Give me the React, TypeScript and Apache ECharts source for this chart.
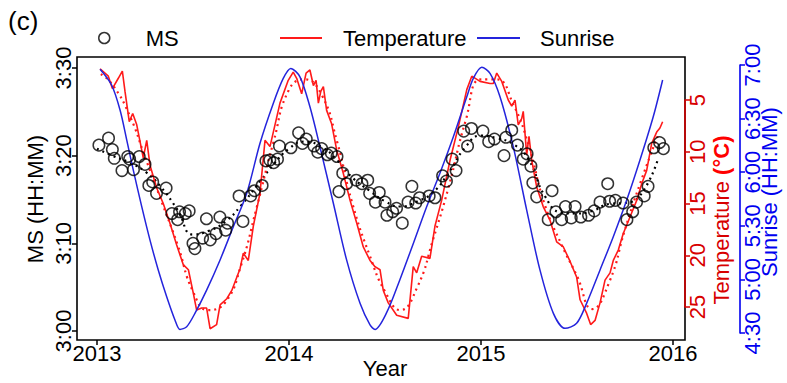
import React, { useEffect, useRef } from "react";
import * as echarts from "echarts";

const FONT = "'Liberation Sans', Arial, Helvetica, sans-serif";

// Axis ticks
const yearTicks = [2013, 2014, 2015, 2016];
const msTicksMin = [180, 190, 200, 210]; // minutes after midnight (3:00 .. 3:30)
const temperatureTicks = [5, 10, 15, 20, 25];
const sunriseTicksMin = [270, 300, 330, 360, 390, 420]; // 4:30 .. 7:00

// MS observations: decimal year, minutes after midnight
const msYears = [
  2013.01, 2013.06, 2013.08, 2013.09, 2013.13, 2013.16, 2013.17, 2013.19, 2013.22, 2013.25,
  2013.27, 2013.29, 2013.31, 2013.36, 2013.39, 2013.42, 2013.43, 2013.46, 2013.48, 2013.5,
  2013.51, 2013.55, 2013.57, 2013.59, 2013.62, 2013.64, 2013.67, 2013.68, 2013.74, 2013.76,
  2013.8, 2013.82, 2013.86, 2013.88, 2013.9, 2013.92, 2013.94, 2013.95, 2014.01, 2014.05,
  2014.07, 2014.09, 2014.13, 2014.15, 2014.17, 2014.2, 2014.22, 2014.25, 2014.26, 2014.28,
  2014.3, 2014.35, 2014.38, 2014.41, 2014.42, 2014.45, 2014.47, 2014.5, 2014.51, 2014.54,
  2014.56, 2014.59, 2014.62, 2014.64, 2014.66, 2014.68, 2014.73, 2014.76, 2014.8, 2014.82,
  2014.85, 2014.87, 2014.91, 2014.93, 2014.95, 2015.01, 2015.04, 2015.07, 2015.12, 2015.13,
  2015.16, 2015.19, 2015.22, 2015.24, 2015.26, 2015.27, 2015.29, 2015.35, 2015.37, 2015.39,
  2015.42, 2015.44, 2015.47, 2015.49, 2015.52, 2015.56, 2015.59, 2015.62, 2015.66, 2015.67,
  2015.7, 2015.74, 2015.76, 2015.79, 2015.81, 2015.85, 2015.87, 2015.9, 2015.93, 2015.95,
];
const msMinutes = [
  201.2, 202.0, 200.7, 199.7, 198.3, 199.9, 199.6, 198.4, 199.9, 199.0,
  196.6, 197.0, 195.7, 196.3, 193.4, 192.7, 193.6, 193.4, 193.7, 190.0,
  189.4, 190.6, 192.8, 190.4, 191.1, 193.0, 191.5, 192.3, 195.4, 192.5,
  195.4, 196.0, 196.6, 199.4, 199.5, 199.2, 199.6, 201.1, 200.9, 202.6,
  201.4, 201.9, 201.1, 200.4, 200.8, 200.1, 200.3, 199.9, 195.9, 198.0,
  196.8, 197.2, 196.8, 197.2, 195.7, 194.7, 195.8, 194.7, 193.2, 193.6,
  194.0, 192.3, 194.7, 196.5, 194.6, 195.2, 195.4, 195.2, 197.7, 197.1,
  199.6, 198.3, 202.8, 201.1, 203.1, 202.8, 201.6, 201.9, 200.0, 202.1,
  202.9, 201.2, 199.6, 200.2, 198.8, 196.9, 195.3, 192.7, 196.0, 193.6,
  192.7, 194.2, 192.9, 194.2, 193.0, 193.2, 193.7, 194.7, 196.8, 194.8,
  194.9, 194.6, 192.7, 193.6, 194.7, 195.4, 196.5, 200.9, 201.5, 200.8,
];

// Smoothed MS trend
const msTrendYears = [
  2013.0, 2013.08, 2013.17, 2013.25, 2013.33, 2013.42, 2013.5, 2013.58, 2013.67, 2013.75,
  2013.83, 2013.92, 2014.0, 2014.08, 2014.17, 2014.25, 2014.33, 2014.42, 2014.5, 2014.58,
  2014.67, 2014.75, 2014.83, 2014.92, 2015.0, 2015.08, 2015.17, 2015.25, 2015.33, 2015.42,
  2015.5, 2015.58, 2015.67, 2015.75, 2015.83, 2015.92,
];
const msTrendMinutes = [
  200.8, 200.0, 199.2, 198.2, 196.5, 193.8, 191.0, 191.4, 192.5, 194.3,
  196.5, 199.0, 200.8, 201.6, 201.0, 199.5, 197.5, 196.0, 194.8, 194.2,
  194.8, 195.8, 198.0, 201.0, 202.3, 202.0, 201.3, 199.5, 195.5, 193.5,
  193.4, 193.7, 194.5, 194.6, 195.5, 199.5,
];

// Temperature (°C)
const temperatureYears = [
  2013.016, 2013.059, 2013.08, 2013.111, 2013.132, 2013.146, 2013.168, 2013.186, 2013.207, 2013.241,
  2013.259, 2013.276, 2013.311, 2013.345, 2013.38, 2013.415, 2013.449, 2013.476, 2013.502, 2013.519,
  2013.545, 2013.571, 2013.589, 2013.623, 2013.641, 2013.676, 2013.702, 2013.745, 2013.762, 2013.788,
  2013.814, 2013.849, 2013.875, 2013.901, 2013.953, 2013.996, 2014.022, 2014.04, 2014.066, 2014.089,
  2014.109, 2014.127, 2014.141, 2014.153, 2014.165, 2014.179, 2014.196, 2014.222, 2014.248, 2014.283,
  2014.318, 2014.353, 2014.387, 2014.422, 2014.448, 2014.474, 2014.491, 2014.517, 2014.561, 2014.621,
  2014.647, 2014.665, 2014.691, 2014.734, 2014.76, 2014.795, 2014.839, 2014.882, 2014.926, 2014.952,
  2014.995, 2015.047, 2015.064, 2015.082, 2015.108, 2015.142, 2015.16, 2015.177, 2015.194, 2015.212,
  2015.22, 2015.238, 2015.25, 2015.264, 2015.29, 2015.324, 2015.359, 2015.394, 2015.429, 2015.464,
  2015.498, 2015.516, 2015.55, 2015.571, 2015.594, 2015.62, 2015.646, 2015.672, 2015.689, 2015.715,
  2015.741, 2015.776, 2015.811, 2015.837, 2015.863, 2015.889, 2015.915, 2015.932, 2015.946,
];
const temperatureC = [
  2.0, 2.7, 3.9, 2.9, 2.2, 4.2, 7.1, 6.3, 7.4, 10.6,
  8.9, 11.3, 13.5, 15.0, 16.9, 19.0, 20.9, 21.4, 23.7, 25.3,
  25.1, 25.1, 27.1, 26.7, 24.8, 24.2, 23.4, 21.3, 19.8, 20.5,
  17.2, 14.0, 8.9, 9.5, 5.3, 3.1, 2.3, 2.9, 4.4, 2.4,
  2.1, 3.6, 3.1, 5.3, 4.2, 3.7, 6.0, 7.3, 9.8, 12.1,
  14.7, 16.9, 19.2, 20.5, 21.1, 21.4, 23.4, 24.6, 25.8, 26.1,
  21.1, 21.7, 20.1, 20.3, 17.2, 14.7, 10.8, 7.6, 4.0, 2.7,
  3.2, 3.4, 3.4, 2.4, 3.2, 5.0, 5.6, 5.0, 7.4, 6.8,
  6.1, 10.3, 8.5, 10.8, 13.4, 15.3, 16.6, 18.7, 19.2, 20.6,
  22.1, 24.3, 25.6, 26.7, 26.3, 24.6, 22.4, 21.7, 20.5, 19.5,
  17.9, 16.3, 14.7, 13.1, 11.8, 9.2, 8.1, 7.7, 7.1,
];

// Smoothed temperature trend (°C)
const temperatureTrendYears = [
  2013.02, 2013.08, 2013.17, 2013.25, 2013.33, 2013.42, 2013.5, 2013.58, 2013.67, 2013.75,
  2013.83, 2013.92, 2014.0, 2014.08, 2014.17, 2014.25, 2014.33, 2014.42, 2014.5, 2014.58,
  2014.67, 2014.75, 2014.83, 2014.92, 2015.0, 2015.08, 2015.17, 2015.25, 2015.33, 2015.42,
  2015.5, 2015.58, 2015.67, 2015.75, 2015.83, 2015.92,
];
const temperatureTrendC = [
  2.5, 3.5, 6.5, 10.5, 14.5, 19.0, 23.5, 25.3, 24.5, 21.0,
  15.5, 9.0, 4.0, 3.0, 4.5, 9.0, 15.0, 20.0, 23.5, 25.3,
  23.0, 18.5, 13.5, 7.0, 3.0, 3.0, 5.5, 9.5, 15.0, 19.0,
  22.0, 25.2, 22.5, 17.5, 13.0, 8.5,
];

// Sunrise (minutes after midnight)
const sunriseYears = [
  2013.016, 2013.076, 2013.12, 2013.155, 2013.189, 2013.233, 2013.276, 2013.319, 2013.363, 2013.406,
  2013.432, 2013.467, 2013.51, 2013.571, 2013.641, 2013.71, 2013.78, 2013.849, 2013.918, 2013.97,
  2014.009, 2014.057, 2014.109, 2014.161, 2014.231, 2014.3, 2014.37, 2014.422, 2014.448, 2014.509,
  2014.578, 2014.647, 2014.717, 2014.786, 2014.856, 2014.926, 2014.96, 2015.004, 2015.047, 2015.099,
  2015.168, 2015.238, 2015.307, 2015.377, 2015.438, 2015.498, 2015.55, 2015.62, 2015.689, 2015.759,
  2015.828, 2015.897, 2015.946,
];
const sunriseMinutes = [
  417.6, 408.8, 394.8, 378.0, 361.2, 340.7, 322.0, 305.3, 290.3, 277.3,
  272.0, 273.5, 281.0, 294.0, 310.9, 329.5, 348.2, 376.2, 398.5, 412.5,
  418.1, 413.4, 396.6, 374.3, 342.6, 310.9, 286.6, 274.5, 272.0, 281.5,
  300.0, 320.0, 340.7, 359.4, 379.8, 402.2, 412.5, 418.7, 415.3, 402.2,
  374.3, 338.8, 305.3, 281.0, 272.6, 275.4, 286.6, 305.3, 323.9, 344.4,
  366.8, 391.0, 411.6,
];

const zip = (xs: number[], ys: number[]) => xs.map((x, i) => [x, ys[i]]);
const hhmm = (v: number) => `${Math.floor(v / 60)}:${String(Math.round(v % 60)).padStart(2, "0")}`;

const RED_AXIS = "#d80000";
const RED_LINE = "#ff1a1a";
const BLUE_AXIS = "#0000f0";
const BLUE_LINE = "#2424dc";

export default function App() {
  const ref = useRef<HTMLDivElement>(null);

  useEffect(() => {
    if (!ref.current) return;
    const chart = echarts.init(ref.current, undefined, { renderer: "svg" });

    const gridPos = { left: 97, right: 114 };
    const hiddenX = (gridIndex: number) => ({
      gridIndex,
      type: "value",
      min: yearTicks[0],
      max: yearTicks[yearTicks.length - 1],
      show: false,
    });
    const legendText = (padLeft: number) => ({
      fontSize: 22,
      color: "#000",
      fontFamily: FONT,
      padding: [0, 0, 0, padLeft],
    });
    const rotatedTitle = (x: number, y: number, style: object) => ({
      type: "text",
      x,
      y,
      rotation: Math.PI / 2,
      style: {
        align: "center",
        verticalAlign: "middle",
        textAlign: "center",
        textVerticalAlign: "middle",
        ...style,
      },
    });

    chart.setOption({
      animation: false,
      backgroundColor: "#fff",
      grid: [
        { ...gridPos, top: 68, bottom: 52, outerBoundsMode: "none" },
        { ...gridPos, top: 100, bottom: 76, outerBoundsMode: "none" },
        { ...gridPos, top: 65, bottom: 50, outerBoundsMode: "none" },
      ],
      xAxis: [
        {
          gridIndex: 0,
          type: "value",
          min: yearTicks[0],
          max: yearTicks[yearTicks.length - 1],
          interval: 1,
          offset: 9,
          axisLine: { show: false },
          axisTick: { show: true, length: 5, lineStyle: { color: "#000", width: 1.5 } },
          axisLabel: {
            fontSize: 22,
            color: "#000",
            fontFamily: FONT,
            margin: 2,
            showMinLabel: true,
            showMaxLabel: true,
            formatter: (v: number) => String(v),
          },
          splitLine: { show: false },
        },
        hiddenX(1),
        hiddenX(2),
      ],
      yAxis: [
        {
          gridIndex: 0,
          type: "value",
          position: "left",
          offset: 20,
          min: msTicksMin[0],
          max: msTicksMin[msTicksMin.length - 1],
          interval: 10,
          axisLine: { show: false },
          axisTick: { show: true, length: 5, lineStyle: { color: "#000", width: 1.5 } },
          axisLabel: {
            rotate: 90,
            fontSize: 22,
            color: "#000",
            fontFamily: FONT,
            margin: 3,
            formatter: hhmm,
          },
          splitLine: { show: false },
        },
        {
          gridIndex: 1,
          type: "value",
          position: "right",
          offset: 12,
          inverse: true,
          min: temperatureTicks[0],
          max: temperatureTicks[temperatureTicks.length - 1],
          interval: 5,
          z: 10,
          axisLine: { show: true, lineStyle: { color: RED_AXIS, width: 1.6 } },
          axisTick: { show: true, length: 5, lineStyle: { color: RED_AXIS, width: 1.5 } },
          axisLabel: {
            rotate: 90,
            fontSize: 22,
            color: RED_AXIS,
            fontFamily: FONT,
            margin: 1,
          },
          splitLine: { show: false },
        },
        {
          gridIndex: 2,
          type: "value",
          position: "right",
          offset: 67,
          min: sunriseTicksMin[0],
          max: sunriseTicksMin[sunriseTicksMin.length - 1],
          interval: 30,
          axisLine: { show: true, lineStyle: { color: BLUE_AXIS, width: 1.6 } },
          axisTick: { show: true, length: 5, lineStyle: { color: BLUE_AXIS, width: 1.5 } },
          axisLabel: {
            rotate: 90,
            fontSize: 22,
            color: BLUE_AXIS,
            fontFamily: FONT,
            margin: 1,
            formatter: hhmm,
          },
          splitLine: { show: false },
        },
      ],
      legend: [
        {
          data: [
            {
              name: "MS",
              icon: "circle",
              itemStyle: { color: "rgba(0,0,0,0)", borderColor: "#000", borderWidth: 1.5 },
            },
          ],
          left: 98,
          top: 27,
          padding: 0,
          itemWidth: 11,
          itemHeight: 11,
          selectedMode: false,
          textStyle: legendText(31),
        },
        {
          data: [{ name: "Temperature", icon: "rect", itemStyle: { color: RED_LINE } }],
          left: 280,
          top: 27,
          padding: 0,
          itemWidth: 42,
          itemHeight: 1.8,
          selectedMode: false,
          textStyle: legendText(16),
        },
        {
          data: [{ name: "Sunrise", icon: "rect", itemStyle: { color: BLUE_LINE } }],
          left: 477,
          top: 27,
          padding: 0,
          itemWidth: 43,
          itemHeight: 1.8,
          selectedMode: false,
          textStyle: legendText(15),
        },
      ],
      graphic: [
        {
          type: "rect",
          z: 1,
          silent: true,
          shape: { x: 77, y: 57, width: 608, height: 283 },
          style: { fill: "none", stroke: "#000", lineWidth: 1.6 },
        },
        {
          type: "text",
          x: 8,
          y: 8,
          style: { text: "(c)", fontSize: 26, fontFamily: FONT, fill: "#000" },
        },
        {
          type: "text",
          x: 385,
          y: 368,
          style: {
            text: "Year",
            fontSize: 22,
            fontFamily: FONT,
            fill: "#000",
            align: "center",
            verticalAlign: "middle",
            textAlign: "center",
            textVerticalAlign: "middle",
          },
        },
        rotatedTitle(35, 199, { text: "MS (HH:MM)", fontSize: 22, fontFamily: FONT, fill: "#000" }),
        rotatedTitle(721, 220, {
          text: "{a|Temperature }{b|(°C)}",
          rich: {
            a: { fontSize: 22, fontFamily: FONT, fill: RED_AXIS, color: RED_AXIS },
            b: { fontSize: 22, fontFamily: FONT, fontWeight: "bold", fill: "#ff0000", color: "#ff0000" },
          },
        }),
        rotatedTitle(769, 192, { text: "Sunrise (HH:MM)", fontSize: 22, fontFamily: FONT, fill: BLUE_AXIS }),
      ],
      series: [
        {
          name: "MS",
          type: "scatter",
          xAxisIndex: 0,
          yAxisIndex: 0,
          data: zip(msYears, msMinutes),
          symbol: "circle",
          symbolSize: 11.5,
          itemStyle: { color: "rgba(0,0,0,0)", borderColor: "#000", borderWidth: 1.5 },
          silent: true,
          z: 3,
        },
        {
          name: "MS trend",
          type: "line",
          xAxisIndex: 0,
          yAxisIndex: 0,
          data: zip(msTrendYears, msTrendMinutes),
          smooth: true,
          symbol: "none",
          lineStyle: { color: "#000", width: 2.2, type: [2, 4] },
          silent: true,
          z: 2,
        },
        {
          name: "Temperature",
          type: "line",
          xAxisIndex: 1,
          yAxisIndex: 1,
          data: zip(temperatureYears, temperatureC),
          clip: false,
          symbol: "none",
          itemStyle: { color: RED_LINE },
          lineStyle: { color: RED_LINE, width: 1.6 },
          silent: true,
          z: 2,
        },
        {
          name: "Temperature trend",
          type: "line",
          xAxisIndex: 1,
          yAxisIndex: 1,
          data: zip(temperatureTrendYears, temperatureTrendC),
          clip: false,
          smooth: true,
          symbol: "none",
          lineStyle: { color: RED_LINE, width: 2.2, type: [2, 4] },
          silent: true,
          z: 2,
        },
        {
          name: "Sunrise",
          type: "line",
          xAxisIndex: 2,
          yAxisIndex: 2,
          data: zip(sunriseYears, sunriseMinutes),
          clip: false,
          smooth: 0.3,
          symbol: "none",
          itemStyle: { color: BLUE_LINE },
          lineStyle: { color: BLUE_LINE, width: 1.5 },
          silent: true,
          z: 2,
        },
      ],
    });

    return () => chart.dispose();
  }, []);

  return (
    <div
      ref={ref}
      style={{ position: "fixed", left: 0, top: 0, width: 787, height: 383, background: "#fff" }}
    />
  );
}
